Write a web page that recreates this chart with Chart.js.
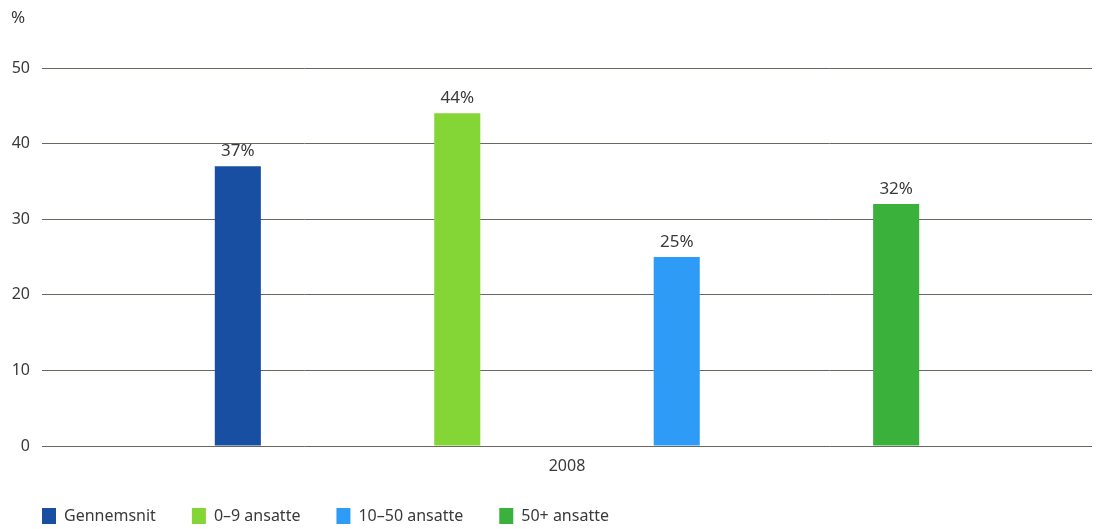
<!DOCTYPE html>
<html>
<head>
<meta charset="utf-8">
<script src="https://cdn.jsdelivr.net/npm/chart.js@4/dist/chart.umd.min.js"></script>
<style>
  html, body { margin: 0; padding: 0; background: #fff; }
  canvas { display: block; }
</style>
</head>
<body>
<canvas id="barChart" width="1098" height="529"></canvas>
<script>
const categories = ['2008'];
const seriesNames = ['Gennemsnit', '0–9 ansatte', '10–50 ansatte', '50+ ansatte'];
const seriesValues = [37, 44, 25, 32];
const seriesColors = ['#184fa3', '#84d636', '#2e9cf6', '#3ab13a'];
const yMin = 0;
const yMax = 50;
const yStep = 10;
const unitLabel = '%';

const textColor = '#3a3a3a';
const fontFamily = '"Noto Sans", "Open Sans", sans-serif';

// value labels above each bar, plus the unit over the y axis
const barLabels = {
  id: 'barLabels',
  afterDatasetsDraw(chart) {
    const ctx = chart.ctx;
    ctx.save();
    ctx.font = '17px ' + fontFamily;
    ctx.fillStyle = textColor;
    ctx.textAlign = 'center';
    ctx.textBaseline = 'middle';
    chart.data.datasets.forEach(function(ds, i) {
      const meta = chart.getDatasetMeta(i);
      meta.data.forEach(function(bar, j) {
        ctx.fillText(ds.data[j] + '%', bar.x, bar.y - 15);
      });
    });
    ctx.textAlign = 'left';
    ctx.fillText(unitLabel, chart.scales.y.left + 5, chart.chartArea.top - 50);
    ctx.restore();
  }
};

const datasets = seriesNames.map(function(name, i) {
  return {
    label: name,
    data: [seriesValues[i]],
    backgroundColor: seriesColors[i],
    borderWidth: 0
  };
});

new Chart(document.getElementById('barChart').getContext('2d'), {
  type: 'bar',
  data: { labels: categories, datasets: datasets },
  options: {
    responsive: false,
    animation: false,
    categoryPercentage: 0.836,
    barPercentage: 0.21,
    layout: { padding: { top: 68, left: 6, right: 6, bottom: 0 } },
    scales: {
      x: {
        afterFit: function(scale) { scale.height = 26; },
        grid: { display: false, drawTicks: false },
        border: { display: false },
        ticks: { color: textColor, padding: 12, font: { family: fontFamily, size: 16, lineHeight: 1 } }
      },
      y: {
        min: yMin,
        max: yMax,
        afterFit: function(scale) { scale.width = 36; },
        grid: { color: '#6b675f', lineWidth: 1, drawTicks: false },
        border: { display: false },
        ticks: { stepSize: yStep, color: textColor, padding: 12, font: { family: fontFamily, size: 16 } }
      }
    },
    plugins: {
      tooltip: { enabled: false },
      legend: {
        position: 'bottom',
        align: 'start',
        maxHeight: 57,
        labels: {
          boxWidth: 14,
          boxHeight: 16,
          padding: 36,
          color: textColor,
          font: { family: fontFamily, size: 16 }
        }
      }
    }
  },
  plugins: [barLabels]
});
</script>
</body>
</html>
